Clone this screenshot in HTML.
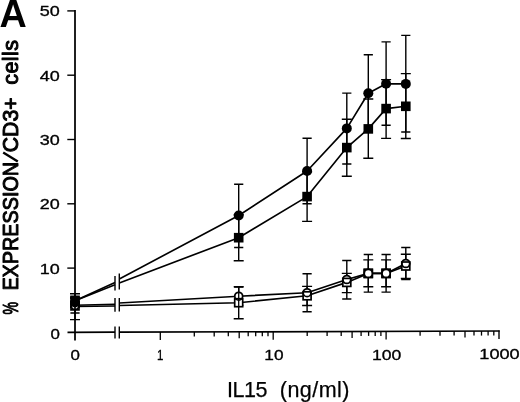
<!DOCTYPE html>
<html><head><meta charset="utf-8"><title>Figure A</title>
<style>html,body{margin:0;padding:0;background:#fff;}body{width:520px;height:402px;overflow:hidden;font-family:"Liberation Sans",sans-serif;}svg{display:block;}</style></head>
<body>
<svg width="520" height="402" viewBox="0 0 520 402">
<rect width="520" height="402" fill="#fff"/>
<g fill="none" stroke="#000" stroke-linecap="butt">
<path d="M75 9.9V340.4" stroke-width="1.75"/>
<path d="M67.5 332.4L115.0 332.2M119.3 332.2L499.7 331" stroke-width="1.7"/>
<path d="M67.3 268.1H75" stroke-width="1.4"/>
<path d="M67.3 203.8H75" stroke-width="1.4"/>
<path d="M67.3 139.5H75" stroke-width="1.4"/>
<path d="M67.3 75.2H75" stroke-width="1.4"/>
<path d="M67.3 10.9H75" stroke-width="1.4"/>
<path d="M160.3 332.1v8" stroke-width="1.3"/>
<path d="M194.3 332.0v4.5" stroke-width="1.3"/>
<path d="M214.2 331.9v4.5" stroke-width="1.3"/>
<path d="M228.3 331.8v4.5" stroke-width="1.3"/>
<path d="M239.2 331.8v6.5" stroke-width="1.3"/>
<path d="M248.2 331.8v4.5" stroke-width="1.3"/>
<path d="M255.7 331.8v4.5" stroke-width="1.3"/>
<path d="M262.3 331.7v4.5" stroke-width="1.3"/>
<path d="M268.0 331.7v4.5" stroke-width="1.3"/>
<path d="M273.2 331.7v8" stroke-width="1.3"/>
<path d="M307.2 331.6v4.5" stroke-width="1.3"/>
<path d="M327.1 331.5v4.5" stroke-width="1.3"/>
<path d="M341.2 331.5v4.5" stroke-width="1.3"/>
<path d="M352.1 331.5v6.5" stroke-width="1.3"/>
<path d="M361.1 331.4v4.5" stroke-width="1.3"/>
<path d="M368.6 331.4v4.5" stroke-width="1.3"/>
<path d="M375.2 331.4v4.5" stroke-width="1.3"/>
<path d="M380.9 331.4v4.5" stroke-width="1.3"/>
<path d="M386.1 331.4v8" stroke-width="1.3"/>
<path d="M420.1 331.2v4.5" stroke-width="1.3"/>
<path d="M440.0 331.2v4.5" stroke-width="1.3"/>
<path d="M454.1 331.1v4.5" stroke-width="1.3"/>
<path d="M465.0 331.1v6.5" stroke-width="1.3"/>
<path d="M474.0 331.1v4.5" stroke-width="1.3"/>
<path d="M481.5 331.1v4.5" stroke-width="1.3"/>
<path d="M488.1 331.0v4.5" stroke-width="1.3"/>
<path d="M493.8 331.0v4.5" stroke-width="1.3"/>
<path d="M499.0 330.4v8.6" stroke-width="1.4"/>
<path d="M115.0 276V290.5M119.3 273.5V289.5" stroke-width="1.4"/>
<path d="M115.0 297.9V311.8M119.3 297.9V311.5" stroke-width="1.4"/>
<path d="M115.0 326.6V338.4M119.3 326.6V338.4" stroke-width="1.4"/>
<path d="M75 305.2L115.0 304.3M119.3 303.0L238.7 296.2L307.1 292.7L346.8 279.5L368.3 273.4L386.1 273.4L405.8 263.5" stroke-width="1.65" stroke-linejoin="round"/>
<path d="M75 306.5L115.0 306.0M119.3 305.5L238.7 302.7L307.1 295.8L346.8 282.4L368.3 273.4L386.1 273.4L405.8 266" stroke-width="1.65" stroke-linejoin="round"/>
<path d="M75 300.8L115.0 282.6M119.3 279.0L238.7 215.5L307.1 171L346.8 128.4L368.3 93.3L386.1 83.8L405.8 83.9" stroke-width="1.65" stroke-linejoin="round"/>
<path d="M75 300.8L115.0 284.8M119.3 283.0L238.7 237.7L307.1 196.6L346.8 147.6L368.3 128.9L386.1 108.6L405.8 106.3" stroke-width="1.65" stroke-linejoin="round"/>
<path d="M75 298V313M70.4 298h9.2M70.4 313h9.2" stroke-width="1.4"/>
<path d="M238.7 287V305.4M234.1 287h9.2M234.1 305.4h9.2" stroke-width="1.4"/>
<path d="M307.1 273.8V311.7M302.5 273.8h9.2M302.5 311.7h9.2" stroke-width="1.4"/>
<path d="M346.8 260.5V299M342.2 260.5h9.2M342.2 299h9.2" stroke-width="1.4"/>
<path d="M368.3 254.5V292.1M363.7 254.5h9.2M363.7 292.1h9.2" stroke-width="1.4"/>
<path d="M386.1 254.5V292.1M381.5 254.5h9.2M381.5 292.1h9.2" stroke-width="1.4"/>
<path d="M405.8 247.5V279.6M401.2 247.5h9.2M401.2 279.6h9.2" stroke-width="1.4"/>
<path d="M75 298V319.6M70.0 298h10.0M70.0 319.6h10.0" stroke-width="1.4"/>
<path d="M238.7 286.8V318.8M233.7 286.8h10.0M233.7 318.8h10.0" stroke-width="1.4"/>
<path d="M307.1 286.4V305.5M302.1 286.4h10.0M302.1 305.5h10.0" stroke-width="1.4"/>
<path d="M346.8 273.4V292.6M341.8 273.4h10.0M341.8 292.6h10.0" stroke-width="1.4"/>
<path d="M368.3 259.9V286.7M363.3 259.9h10.0M363.3 286.7h10.0" stroke-width="1.4"/>
<path d="M386.1 259.9V286.7M381.1 259.9h10.0M381.1 286.7h10.0" stroke-width="1.4"/>
<path d="M405.8 254.2V278.5M400.8 254.2h10.0M400.8 278.5h10.0" stroke-width="1.4"/>
<path d="M75 297V307M70.4 297h9.2M70.4 307h9.2" stroke-width="1.4"/>
<path d="M238.7 184.2V247.5M234.1 184.2h9.2M234.1 247.5h9.2" stroke-width="1.4"/>
<path d="M307.1 138.2V203.8M302.5 138.2h9.2M302.5 203.8h9.2" stroke-width="1.4"/>
<path d="M346.8 93.1V164M342.2 93.1h9.2M342.2 164h9.2" stroke-width="1.4"/>
<path d="M368.3 54.8V131.8M363.7 54.8h9.2M363.7 131.8h9.2" stroke-width="1.4"/>
<path d="M386.1 41.9V125.2M381.5 41.9h9.2M381.5 125.2h9.2" stroke-width="1.4"/>
<path d="M405.8 35.4V132M401.2 35.4h9.2M401.2 132h9.2" stroke-width="1.4"/>
<path d="M75 293.8V307M70.0 293.8h10.0M70.0 307h10.0" stroke-width="1.4"/>
<path d="M238.7 214.6V260.8M233.7 214.6h10.0M233.7 260.8h10.0" stroke-width="1.4"/>
<path d="M307.1 171.8V221.4M302.1 171.8h10.0M302.1 221.4h10.0" stroke-width="1.4"/>
<path d="M346.8 119.2V176.2M341.8 119.2h10.0M341.8 176.2h10.0" stroke-width="1.4"/>
<path d="M368.3 99V158.3M363.3 99h10.0M363.3 158.3h10.0" stroke-width="1.4"/>
<path d="M386.1 79.6V138.4M381.1 79.6h10.0M381.1 138.4h10.0" stroke-width="1.4"/>
<path d="M405.8 73.6V138.5M400.8 73.6h10.0M400.8 138.5h10.0" stroke-width="1.4"/>
</g>
<circle cx="238.7" cy="296.2" r="3.95" fill="#fff"/>
<rect x="234.7" y="298.7" width="8.0" height="8.0" fill="#fff"/>
<circle cx="307.1" cy="292.7" r="3.95" fill="#fff"/>
<rect x="303.1" y="291.8" width="8.0" height="8.0" fill="#fff"/>
<circle cx="346.8" cy="279.5" r="3.95" fill="#fff"/>
<rect x="342.8" y="278.4" width="8.0" height="8.0" fill="#fff"/>
<circle cx="368.3" cy="273.4" r="3.95" fill="#fff"/>
<rect x="364.3" y="269.4" width="8.0" height="8.0" fill="#fff"/>
<circle cx="386.1" cy="273.4" r="3.95" fill="#fff"/>
<rect x="382.1" y="269.4" width="8.0" height="8.0" fill="#fff"/>
<circle cx="405.8" cy="263.5" r="3.95" fill="#fff"/>
<rect x="401.8" y="262.0" width="8.0" height="8.0" fill="#fff"/>
<circle cx="75" cy="305.5" r="3.95" fill="#fff"/>
<rect x="71.0" y="301.9" width="8.0" height="8.0" fill="#fff"/>
<circle cx="75" cy="305.5" r="3.95" fill="none" stroke="#000" stroke-width="1.75"/>
<rect x="71.0" y="301.9" width="8.0" height="8.0" fill="none" stroke="#000" stroke-width="1.7"/>
<circle cx="238.7" cy="296.2" r="3.95" fill="none" stroke="#000" stroke-width="1.75"/>
<rect x="234.7" y="298.7" width="8.0" height="8.0" fill="none" stroke="#000" stroke-width="1.7"/>
<circle cx="307.1" cy="292.7" r="3.95" fill="none" stroke="#000" stroke-width="1.75"/>
<rect x="303.1" y="291.8" width="8.0" height="8.0" fill="none" stroke="#000" stroke-width="1.7"/>
<circle cx="346.8" cy="279.5" r="3.95" fill="none" stroke="#000" stroke-width="1.75"/>
<rect x="342.8" y="278.4" width="8.0" height="8.0" fill="none" stroke="#000" stroke-width="1.7"/>
<circle cx="368.3" cy="273.4" r="3.95" fill="none" stroke="#000" stroke-width="1.75"/>
<rect x="364.3" y="269.4" width="8.0" height="8.0" fill="none" stroke="#000" stroke-width="1.7"/>
<circle cx="386.1" cy="273.4" r="3.95" fill="none" stroke="#000" stroke-width="1.75"/>
<rect x="382.1" y="269.4" width="8.0" height="8.0" fill="none" stroke="#000" stroke-width="1.7"/>
<circle cx="405.8" cy="263.5" r="3.95" fill="none" stroke="#000" stroke-width="1.75"/>
<rect x="401.8" y="262.0" width="8.0" height="8.0" fill="none" stroke="#000" stroke-width="1.7"/>
<rect x="363.45" y="268.55" width="9.7" height="9.7" fill="#000"/><circle cx="368.3" cy="273.4" r="3.15" fill="#fff"/>
<rect x="381.25" y="268.55" width="9.7" height="9.7" fill="#000"/><circle cx="386.1" cy="273.4" r="3.15" fill="#fff"/>
<circle cx="75" cy="302.4" r="5" fill="#000"/>
<rect x="70.2" y="295.5" width="9.6" height="9.6" fill="#000"/>
<circle cx="238.7" cy="215.5" r="5" fill="#000"/>
<rect x="233.9" y="232.9" width="9.6" height="9.6" fill="#000"/>
<circle cx="307.1" cy="171" r="5" fill="#000"/>
<rect x="302.3" y="191.8" width="9.6" height="9.6" fill="#000"/>
<circle cx="346.8" cy="128.4" r="5" fill="#000"/>
<rect x="342.0" y="142.8" width="9.6" height="9.6" fill="#000"/>
<circle cx="368.3" cy="93.3" r="5" fill="#000"/>
<rect x="363.5" y="124.1" width="9.6" height="9.6" fill="#000"/>
<circle cx="386.1" cy="83.8" r="5" fill="#000"/>
<rect x="381.3" y="103.8" width="9.6" height="9.6" fill="#000"/>
<circle cx="405.8" cy="83.9" r="5" fill="#000"/>
<rect x="401.0" y="101.5" width="9.6" height="9.6" fill="#000"/>
<path d="M75 304V314" stroke="#000" stroke-width="1.6" fill="none"/>
<path d="M238.7 292V307" stroke="#000" stroke-width="1.3" fill="none"/>
<g opacity="0.999" fill="#000" stroke="#000" stroke-linejoin="round">
<text x="39.8" y="16.4" font-size="15.4" text-anchor="start" textLength="20" lengthAdjust="spacingAndGlyphs" stroke-width="0.35"  font-family="Liberation Sans, sans-serif">50</text>
<text x="39.8" y="80.60000000000001" font-size="15.4" text-anchor="start" textLength="20" lengthAdjust="spacingAndGlyphs" stroke-width="0.35"  font-family="Liberation Sans, sans-serif">40</text>
<text x="39.8" y="144.89999999999998" font-size="15.4" text-anchor="start" textLength="20" lengthAdjust="spacingAndGlyphs" stroke-width="0.35"  font-family="Liberation Sans, sans-serif">30</text>
<text x="39.8" y="209.2" font-size="15.4" text-anchor="start" textLength="20" lengthAdjust="spacingAndGlyphs" stroke-width="0.35"  font-family="Liberation Sans, sans-serif">20</text>
<text x="39.8" y="273.5" font-size="15.4" text-anchor="start" textLength="20" lengthAdjust="spacingAndGlyphs" stroke-width="0.35"  font-family="Liberation Sans, sans-serif">10</text>
<text x="50.4" y="338.5" font-size="15.4" text-anchor="start" textLength="9.4" lengthAdjust="spacingAndGlyphs" stroke-width="0.35"  font-family="Liberation Sans, sans-serif">0</text>
<text x="70.6" y="360.4" font-size="15.4" text-anchor="start" textLength="9.4" lengthAdjust="spacingAndGlyphs" stroke-width="0.35"  font-family="Liberation Sans, sans-serif">0</text>
<text x="157.0" y="360" font-size="15.4" text-anchor="start" textLength="6.4" lengthAdjust="spacingAndGlyphs" stroke-width="0.35"  font-family="Liberation Sans, sans-serif">1</text>
<text x="264.3" y="359.9" font-size="15.4" text-anchor="start" textLength="19.2" lengthAdjust="spacingAndGlyphs" stroke-width="0.35"  font-family="Liberation Sans, sans-serif">10</text>
<text x="372" y="359.6" font-size="15.4" text-anchor="start" textLength="29.4" lengthAdjust="spacingAndGlyphs" stroke-width="0.35"  font-family="Liberation Sans, sans-serif">100</text>
<text x="479.3" y="358.9" font-size="15.4" text-anchor="start" textLength="40.4" lengthAdjust="spacingAndGlyphs" stroke-width="0.35"  font-family="Liberation Sans, sans-serif">1000</text>
<text transform="translate(227.0 396.5) scale(1.0 1)" font-size="21.5" letter-spacing="-0.5" stroke-width="0.25"  font-family="Liberation Sans, sans-serif">IL15</text>
<text transform="translate(279.8 396.5) scale(1.0 1)" font-size="21.5" letter-spacing="0.45" stroke-width="0.25"  font-family="Liberation Sans, sans-serif">(ng/ml)</text>
<text transform="translate(-0.6 26.6) scale(0.98 1)" font-size="38.5" font-weight="bold" stroke-width="0" font-family="Liberation Sans, sans-serif">A</text>
<text transform="translate(18 314.4) rotate(-90) scale(0.66 1)" font-size="21.5" letter-spacing="0" stroke-width="1.0" font-family="Liberation Sans, sans-serif">%</text>
<text transform="translate(18 290.6) rotate(-90) scale(0.922 1)" font-size="21.5" letter-spacing="0" stroke-width="1.0" font-family="Liberation Sans, sans-serif">EXPRESSION</text>
<path d="M17.8 161.6L3.2 152.4" stroke-width="2.4" fill="none"/>
<text transform="translate(18 152.2) rotate(-90) scale(0.986 1)" font-size="21.5" letter-spacing="0" stroke-width="1.0" font-family="Liberation Sans, sans-serif">CD3+</text>
<text transform="translate(18 84.8) rotate(-90) scale(1.0 1)" font-size="21.5" letter-spacing="0.45" stroke-width="1.0" font-family="Liberation Sans, sans-serif">cells</text>
</g>
</svg>
</body></html>
